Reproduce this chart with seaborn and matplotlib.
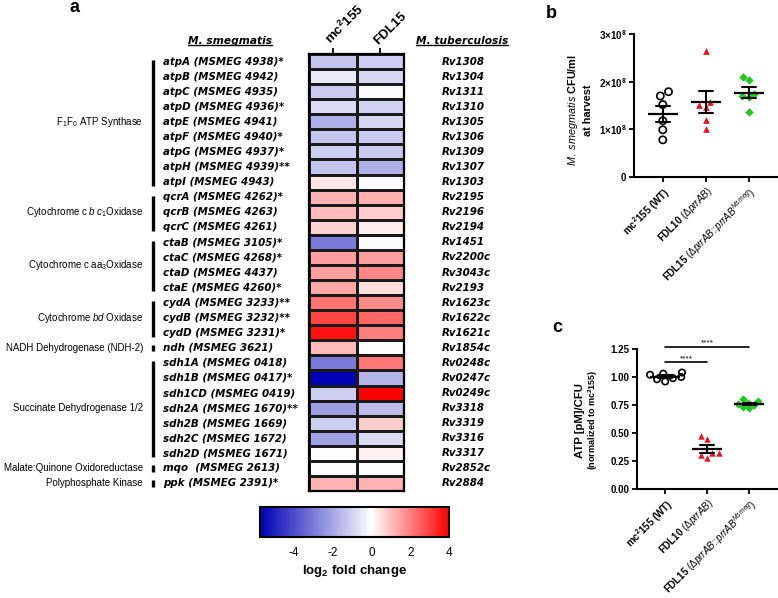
import numpy as np
import pandas as pd
import matplotlib
matplotlib.use("Agg")
import matplotlib.pyplot as plt
import seaborn as sns
from matplotlib.colors import LinearSegmentedColormap

# ---------------- data ----------------
genes = ["atpA (MSMEG 4938)*", "atpB (MSMEG 4942)", "atpC (MSMEG 4935)", "atpD (MSMEG 4936)*",
         "atpE (MSMEG 4941)", "atpF (MSMEG 4940)*", "atpG (MSMEG 4937)*", "atpH (MSMEG 4939)**",
         "atpI (MSMEG 4943)", "qcrA (MSMEG 4262)*", "qcrB (MSMEG 4263)", "qcrC (MSMEG 4261)",
         "ctaB (MSMEG 3105)*", "ctaC (MSMEG 4268)*", "ctaD (MSMEG 4437)", "ctaE (MSMEG 4260)*",
         "cydA (MSMEG 3233)**", "cydB (MSMEG 3232)**", "cydD (MSMEG 3231)*", "ndh (MSMEG 3621)",
         "sdh1A (MSMEG 0418)", "sdh1B (MSMEG 0417)*", "sdh1CD (MSMEG 0419)", "sdh2A (MSMEG 1670)**",
         "sdh2B (MSMEG 1669)", "sdh2C (MSMEG 1672)", "sdh2D (MSMEG 1671)", "mqo  (MSMEG 2613)",
         "ppk (MSMEG 2391)*"]
rv_ids = ["Rv1308", "Rv1304", "Rv1311", "Rv1310", "Rv1305", "Rv1306", "Rv1309", "Rv1307", "Rv1303",
          "Rv2195", "Rv2196", "Rv2194", "Rv1451", "Rv2200c", "Rv3043c", "Rv2193", "Rv1623c",
          "Rv1622c", "Rv1621c", "Rv1854c", "Rv0248c", "Rv0247c", "Rv0249c", "Rv3318", "Rv3319",
          "Rv3316", "Rv3317", "Rv2852c", "Rv2884"]
mc2155_lfc = [-1.3, -0.5, -1.2, -0.8, -1.8, -1.3, -1.1, -1.3, 0.4,
              1.2, 1.1, 0.7, -3.0, 1.5, 1.5, 1.4,
              2.2, 2.9, 3.7, 1.1,
              -3.0, -5.75, -1.1, -2.2, -1.1, -2.1, 0.0, 0.0, 1.2]
fdl15_lfc = [-1.1, -0.9, -0.1, -1.0, -0.9, -1.2, -1.2, -1.8, -0.1,
             1.2, 0.8, 0.3, -0.1, 1.5, 1.9, 0.5,
             1.8, 2.4, 2.0, 0.0,
             2.1, -1.7, 4.0, -1.5, 0.8, -0.8, 0.2, 0.0, 1.2]
heat_cols = ["mc$^2$155", "FDL15"]
group_labels = ["F$_1$F$_0$ ATP Synthase", "Cytochrome c $\\mathit{b\\ c}_1$Oxidase",
                "Cytochrome c aa$_3$Oxidase", "Cytochrome $\\mathit{bd}$ Oxidase",
                "NADH Dehydrogenase (NDH-2)", "Succinate Dehydrogenase 1/2",
                "Malate:Quinone Oxidoreductase", "Polyphosphate Kinase"]
group_start = [0, 9, 12, 16, 19, 20, 27, 28]
group_end = [8, 11, 15, 18, 19, 26, 27, 28]
vmin, vmax = -5.75, 4.0
cb_ticks = [-4, -2, 0, 2, 4]

strains = ["WT", "FDL10", "FDL15"]
strain_labels = ["$\\mathbf{mc^{2}155\\ (WT)}$",
                 "$\\mathbf{FDL10}$ (Δ$\\mathit{prrAB}$)",
                 "$\\mathbf{FDL15}$ (Δ$\\mathit{prrAB}$::$\\mathit{prrAB}^{\\mathit{Msmeg}}$)"]
cfu_wt = [1.79e8, 1.70e8, 1.52e8, 1.18e8, 0.99e8, 0.78e8]
cfu_fdl10 = [2.65e8, 1.46e8, 1.57e8, 1.51e8, 1.20e8, 1.01e8]
cfu_fdl15 = [2.04e8, 2.10e8, 1.75e8, 1.69e8, 1.68e8, 1.37e8]
atp_wt = [1.03, 0.96, 1.02, 1.00, 1.04, 0.98, 0.99]
atp_fdl10 = [0.45, 0.47, 0.28, 0.32, 0.30, 0.32]
atp_fdl15 = [0.76, 0.80, 0.72, 0.79, 0.73, 0.77, 0.75]
cfu_ticks = [0, 1e8, 2e8, 3e8]
cfu_ticklabels = ["0", "1×10$^8$", "2×10$^8$", "3×10$^8$"]
atp_ticks = [0, 0.25, 0.5, 0.75, 1.0, 1.25]
sig_pairs = [(0, 2, 1.27), (0, 1, 1.13)]

# ---------------- style ----------------
sns.set_style("ticks")
plt.rcParams["font.family"] = ["Liberation Sans", "DejaVu Sans"]
plt.rcParams["mathtext.fontset"] = "custom"
plt.rcParams["mathtext.rm"] = "Liberation Sans"
plt.rcParams["mathtext.it"] = "Liberation Sans:italic"
plt.rcParams["mathtext.bf"] = "Liberation Sans:bold"
plt.rcParams["mathtext.default"] = "regular"
plt.rcParams["axes.unicode_minus"] = False
for k in ["text.color", "axes.labelcolor", "xtick.color", "ytick.color", "axes.edgecolor"]:
    plt.rcParams[k] = "black"

W, H = 778, 598
fig = plt.figure(figsize=(W / 100, H / 100), dpi=100)


def rect(x0, y0, x1, y1):
    return [x0 / W, 1 - y1 / H, (x1 - x0) / W, (y1 - y0) / H]


# ---------------- panel a: heatmap ----------------
ax = fig.add_axes(rect(309, 54, 404, 491))
cax = fig.add_axes(rect(260, 507, 449, 537))
hm = pd.DataFrame({"mc2155": mc2155_lfc, "FDL15": fdl15_lfc}, index=genes)
mid = -vmin / (vmax - vmin)
cmap = LinearSegmentedColormap.from_list("bwr_lfc", [(0, "#0000b4"), (mid, "#ffffff"), (1, "#ff0000")])
sns.heatmap(hm, ax=ax, cmap=cmap, vmin=vmin, vmax=vmax, linewidths=0.8, linecolor="#1a1a1a",
            cbar_ax=cax, cbar_kws={"orientation": "horizontal", "ticks": cb_ticks},
            xticklabels=heat_cols, yticklabels=False)
ax.xaxis.set_ticks_position("top")
ax.tick_params(axis="x", top=True, bottom=False, labeltop=True, labelbottom=False,
               length=4, width=1.3, pad=1)
ax.set_xticklabels(heat_cols, rotation=45, ha="left", va="bottom", rotation_mode="anchor",
                   fontsize=9.5, fontweight="bold")
ax.set_xlabel("")
ax.set_ylabel("")
for s in ax.spines.values():
    s.set_visible(True)
    s.set_linewidth(1.6)

ytr = ax.get_yaxis_transform()
gfont = dict(family="DejaVu Sans", fontweight="bold", style="italic", fontsize=7.4)
for i, (g, rv) in enumerate(zip(genes, rv_ids)):
    ax.text(-1.537, i + 0.5, g, transform=ytr, ha="left", va="center", **gfont)
    ax.text(1.40, i + 0.5, rv, transform=ytr, ha="left", va="center", **gfont)

for lab, i0, i1 in zip(group_labels, group_start, group_end):
    if i0 == i1:
        y0, y1 = i0 + 0.3, i0 + 0.72
    else:
        y0, y1 = i0 + 0.4, i1 + 0.75
    ax.plot([-1.64, -1.64], [y0, y1], transform=ytr, color="black", lw=2.4,
            clip_on=False, solid_capstyle="butt")
    ax.text(-1.747, (i0 + i1 + 1) / 2, lab, transform=ytr, ha="right", va="center", fontsize=7)

hdr1 = ax.text(-0.832, 1.03, "M. smegmatis", transform=ax.transAxes, ha="center", va="center",
               family="DejaVu Sans", fontweight="bold", style="italic", fontsize=7.7)
hdr2 = ax.text(1.61, 1.03, "M. tuberculosis", transform=ax.transAxes, ha="center", va="center",
               family="DejaVu Sans", fontweight="bold", style="italic", fontsize=7.7)

cbar = ax.collections[0].colorbar
cbar.outline.set_linewidth(1.5)
cbar.outline.set_edgecolor("black")
cax.tick_params(axis="x", direction="in", length=5, width=1.4, top=True, bottom=True,
                labelsize=8.5, pad=7)
cax.set_xlabel("log$_2$ fold change", fontweight="bold", fontsize=9.5, labelpad=3)

# ---------------- panels b and c ----------------
markers = ["o", "^", "D"]
colors = ["black", "#e8101c", "#1ec81e"]


def dot_panel(axp, vals, col, msize, msize_mean):
    df = pd.DataFrame({"strain": np.repeat(strains, [len(v) for v in vals]),
                       col: np.concatenate([np.asarray(v, float) for v in vals])})
    for s, mk, c, ms in zip(strains, markers, colors, msize):
        sub = df[df["strain"] == s]
        n0 = len(axp.collections)
        sns.swarmplot(data=sub, x="strain", y=col, order=strains, marker=mk, color=c, size=ms,
                      ax=axp, zorder=2, warn_thresh=1)
        if s == "WT":
            for coll in axp.collections[n0:]:
                coll.set_facecolor("none")
                coll.set_edgecolor("black")
                coll.set_linewidth(1.2)
    sns.pointplot(data=df, x="strain", y=col, order=strains, errorbar="se", capsize=0.32,
                  color="black", markers="_", markersize=msize_mean, markeredgewidth=1.6,
                  linestyle="none", err_kws={"linewidth": 1.5}, ax=axp)
    axp.set_xlim(-0.67, 2.66)
    sns.despine(ax=axp)
    for sp in ["left", "bottom"]:
        axp.spines[sp].set_linewidth(1.5)
    axp.tick_params(length=3.5, width=1.3, labelsize=7, pad=2)
    axp.set_xticks(range(len(strains)))
    axp.set_xticklabels(strain_labels, rotation=45, ha="right", rotation_mode="anchor", fontsize=7)
    axp.set_xlabel("")
    axp.set_ylabel("")
    return df


axb = fig.add_axes(rect(634, 34, 777, 177))
dot_panel(axb, [cfu_wt, cfu_fdl10, cfu_fdl15], "cfu", [5.2, 4.8, 4.3], 21)
axb.set_ylim(0, 3e8)
axb.set_yticks(cfu_ticks)
axb.set_yticklabels(cfu_ticklabels, fontweight="bold", fontsize=7)

axc = fig.add_axes(rect(637, 349, 777, 489))
dot_panel(axc, [atp_wt, atp_fdl10, atp_fdl15], "atp", [4.6, 4.6, 4.2], 21)
axc.set_ylim(0, 1.25)
axc.set_yticks(atp_ticks)
axc.set_yticklabels([f"{t:.2f}" for t in atp_ticks], fontweight="bold", fontsize=7)
for a_, b_, yv in sig_pairs:
    axc.plot([a_, b_], [yv, yv], color="black", lw=1.2, clip_on=False)
    axc.text((a_ + b_) / 2, yv, "****", ha="center", va="bottom", fontsize=6, clip_on=False)

# y labels
fig.text(573 / W, 1 - 110 / H, "$\\mathit{M.\\ smegmatis}$ CFU/ml", rotation=90, ha="center",
         va="center", fontsize=7.8, fontweight="bold")
fig.text(588 / W, 1 - 110 / H, "at harvest", rotation=90, ha="center", va="center",
         fontsize=7.8, fontweight="bold")
fig.text(580 / W, 1 - 420 / H, "ATP [pM]/CFU", rotation=90, ha="center", va="center",
         fontsize=8.2, fontweight="bold")
fig.text(593 / W, 1 - 420 / H, "(normalized to mc$^2$155)", rotation=90, ha="center",
         va="center", fontsize=6.5, fontweight="bold")

# panel letters
fig.text(74 / W, 1 - 8 / H, "a", ha="center", va="center", fontsize=13, fontweight="bold")
fig.text(551 / W, 1 - 14 / H, "b", ha="center", va="center", fontsize=13, fontweight="bold")
fig.text(557 / W, 1 - 328 / H, "c", ha="center", va="center", fontsize=13, fontweight="bold")

# underline the two headers
fig.canvas.draw()
r = fig.canvas.get_renderer()
inv = fig.transFigure.inverted()
for t in (hdr1, hdr2):
    bb = t.get_window_extent(r)
    (x0, y0), (x1, _) = inv.transform([(bb.x0, bb.y0 + 0.5), (bb.x1, bb.y1)])
    fig.add_artist(plt.Line2D([x0, x1], [y0, y0], transform=fig.transFigure, color="black", lw=1.0))

fig.savefig("out.png", dpi=100)
